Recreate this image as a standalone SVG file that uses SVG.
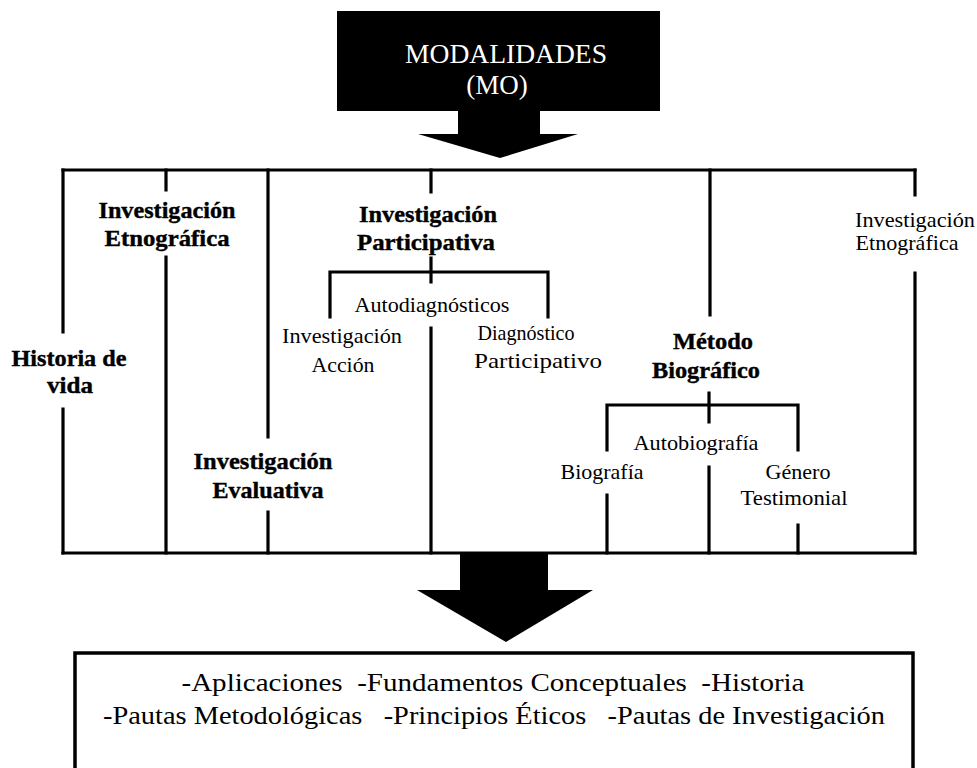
<svg xmlns="http://www.w3.org/2000/svg" width="977" height="768" viewBox="0 0 977 768">
<style>
.ln{fill:none;stroke:#000;stroke-width:3.2;stroke-linecap:square}
.b{font-family:"Liberation Serif","Times New Roman",serif;font-weight:bold;font-size:24px;fill:#000;stroke:#000;stroke-width:0.4;text-anchor:middle}
.r{font-family:"Liberation Serif","Times New Roman",serif;font-size:22px;fill:#000;text-anchor:middle}
.w{font-family:"Liberation Serif","Times New Roman",serif;font-size:27px;fill:#fff;text-anchor:middle}
.bt{font-family:"Liberation Serif","Times New Roman",serif;font-size:26px;fill:#000;text-anchor:middle}
</style>
<rect width="977" height="768" fill="#fff"/>
<g id="modalidades">
<rect x="337" y="11" width="323" height="100" fill="#000"/>
<text class="w" x="506" y="63" textLength="202" lengthAdjust="spacingAndGlyphs">MODALIDADES</text>
<text class="w" x="497" y="94">(MO)</text>
</g>
<g id="connectors">
<polygon points="458,110 540,110 540,134 578,134 500,158 418,134 458,134" fill="#000"/>
<path class="ln" d="M63 170 H915"/>
<path class="ln" d="M63 170 V332 M63 409 V553"/>
<path class="ln" d="M166 170 V190 M166 257 V553"/>
<path class="ln" d="M268 170 V437 M268 512 V553"/>
<path class="ln" d="M431 170 V192 M431 258 V282 M330 317 V272 H548 V317 M431 328 V553"/>
<path class="ln" d="M710 170 V315 M709 393 V422 M607 450 V405 H798 V450 M607 495 V553 M709 467 V553 M798 525 V553"/>
<path class="ln" d="M915 170 V195 M915 273 V553"/>
<path class="ln" d="M63 553 H915"/>
<polygon points="460,553 548,553 548,590 593,590 506,642 417,590 460,590" fill="#000"/>
</g>
<g id="historia-de-vida">
<text class="b" x="69" y="366" textLength="115" lengthAdjust="spacingAndGlyphs">Historia de</text>
<text class="b" x="70" y="393" textLength="46" lengthAdjust="spacingAndGlyphs">vida</text>
</g>
<g id="investigacion-etnografica-1">
<text class="b" x="167" y="218" textLength="137" lengthAdjust="spacingAndGlyphs">Investigación</text>
<text class="b" x="167" y="246" textLength="125" lengthAdjust="spacingAndGlyphs">Etnográfica</text>
</g>
<g id="investigacion-evaluativa">
<text class="b" x="263" y="469" textLength="139" lengthAdjust="spacingAndGlyphs">Investigación</text>
<text class="b" x="268" y="498" textLength="111" lengthAdjust="spacingAndGlyphs">Evaluativa</text>
</g>
<g id="investigacion-participativa">
<text class="b" x="428" y="222" textLength="138" lengthAdjust="spacingAndGlyphs">Investigación</text>
<text class="b" x="426" y="250" textLength="138" lengthAdjust="spacingAndGlyphs">Participativa</text>
</g>
<g id="autodiagnosticos">
<text class="r" x="432" y="312" textLength="155" lengthAdjust="spacingAndGlyphs">Autodiagnósticos</text>
</g>
<g id="investigacion-accion">
<text class="r" x="342" y="343" textLength="120" lengthAdjust="spacingAndGlyphs">Investigación</text>
<text class="r" x="343" y="372" textLength="63" lengthAdjust="spacingAndGlyphs">Acción</text>
</g>
<g id="diagnostico-participativo">
<text class="r" x="526" y="340" font-size="20" textLength="97" lengthAdjust="spacingAndGlyphs">Diagnóstico</text>
<text class="r" x="538" y="368" textLength="128" lengthAdjust="spacingAndGlyphs">Participativo</text>
</g>
<g id="metodo-biografico">
<text class="b" x="713" y="349" textLength="80" lengthAdjust="spacingAndGlyphs">Método</text>
<text class="b" x="706" y="378" textLength="108" lengthAdjust="spacingAndGlyphs">Biográfico</text>
</g>
<g id="autobiografia">
<text class="r" x="696" y="450" textLength="125" lengthAdjust="spacingAndGlyphs">Autobiografía</text>
</g>
<g id="biografia">
<text class="r" x="602" y="479" textLength="83" lengthAdjust="spacingAndGlyphs">Biografía</text>
</g>
<g id="genero-testimonial">
<text class="r" x="798" y="479" textLength="65" lengthAdjust="spacingAndGlyphs">Género</text>
<text class="r" x="794" y="505" textLength="107" lengthAdjust="spacingAndGlyphs">Testimonial</text>
</g>
<g id="investigacion-etnografica-2">
<text class="r" x="915" y="227" textLength="120" lengthAdjust="spacingAndGlyphs">Investigación</text>
<text class="r" x="907" y="250" textLength="103" lengthAdjust="spacingAndGlyphs">Etnográfica</text>
</g>
<g id="resultados">
<rect x="75" y="653" width="838" height="130" fill="#fff" stroke="#000" stroke-width="3.5"/>
<text class="bt" x="493" y="691" textLength="623" lengthAdjust="spacingAndGlyphs" xml:space="preserve">-Aplicaciones  -Fundamentos Conceptuales  -Historia</text>
<text class="bt" x="494" y="724" textLength="782" lengthAdjust="spacingAndGlyphs" xml:space="preserve">-Pautas Metodológicas   -Principios Éticos   -Pautas de Investigación</text>
</g>
</svg>
